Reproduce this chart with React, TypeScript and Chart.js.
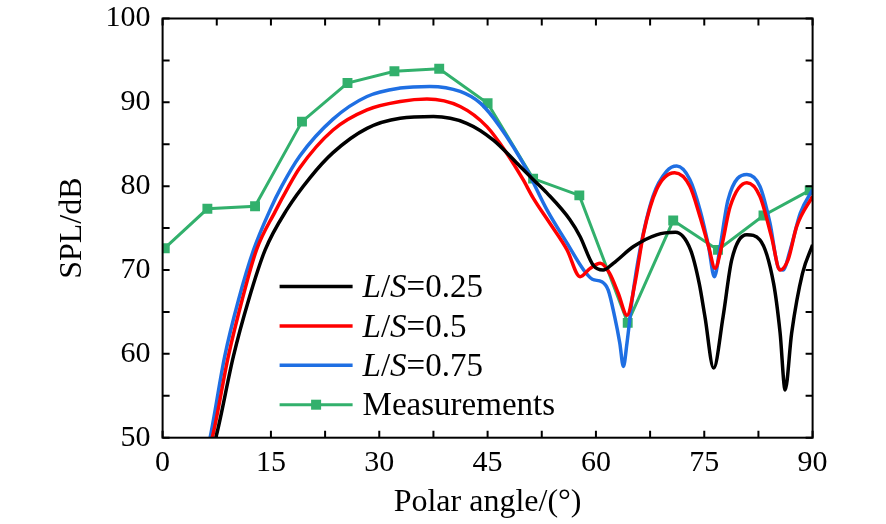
import React, { useEffect, useRef } from "react";
import { Chart, registerables } from "chart.js";

Chart.register(...registerables);

// ---- tick values ----
const xTickValues = [0, 15, 30, 45, 60, 75, 90];
const yTickValues = [50, 60, 70, 80, 90, 100];
const xMinorTickValues = [0, 7.5, 15, 22.5, 30, 37.5, 45, 52.5, 60, 67.5, 75, 82.5, 90];
const yMinorTickValues = [50, 55, 60, 65, 70, 75, 80, 85, 90, 95, 100];

// ---- L/S = 0.25 (black) ----
const ls025Angle = [7.0, 7.4, 9.8, 11.9, 14.2, 17.2, 20.4, 23.6, 28.3, 32.9, 37.5, 42.1, 45.8, 49.0, 51.3, 53.2, 56.4, 57.8, 59.6, 61.0, 62.4, 65.2, 68.4, 71.0, 73.1, 74.3, 75.1, 76.3, 77.6, 78.8, 80.9, 82.7, 84.6, 85.5, 86.2, 87.1, 88.6, 90.0];
const ls025Spl = [49.0, 50.1, 59.7, 66.4, 72.4, 77.2, 81.0, 84.0, 86.9, 88.1, 88.3, 87.5, 85.5, 82.8, 80.8, 79.2, 76.0, 74.0, 70.6, 70.0, 70.8, 72.8, 74.2, 74.5, 72.4, 68.4, 64.4, 58.3, 64.4, 71.2, 74.2, 73.6, 68.4, 62.5, 55.7, 62.5, 69.6, 73.0];

// ---- L/S = 0.5 (red) ----
const ls05Angle = [6.5, 6.9, 9.1, 11.0, 13.0, 15.6, 17.4, 19.0, 23.6, 28.3, 32.9, 36.6, 41.2, 44.9, 47.6, 49.9, 51.3, 53.6, 56.0, 57.8, 59.2, 60.6, 61.9, 63.1, 64.3, 65.4, 66.6, 68.4, 70.9, 73.0, 74.4, 75.6, 76.5, 77.4, 78.6, 80.9, 82.7, 84.3, 85.5, 86.6, 87.8, 90.0];
const ls05Spl = [49.0, 50.1, 59.7, 66.4, 72.4, 77.0, 79.9, 82.2, 86.7, 89.1, 90.1, 90.4, 89.5, 87.1, 84.0, 80.8, 78.6, 75.6, 72.4, 69.2, 70.2, 70.8, 69.6, 67.2, 64.6, 68.4, 74.4, 79.6, 81.6, 80.0, 76.4, 72.8, 70.2, 72.8, 77.6, 80.4, 78.8, 74.0, 70.0, 71.2, 75.2, 78.8];

// ---- L/S = 0.75 (blue) ----
const ls075Angle = [6.3, 6.6, 8.6, 10.5, 12.6, 14.9, 16.5, 19.0, 23.6, 28.3, 32.9, 37.0, 41.2, 44.0, 46.7, 50.4, 53.2, 56.0, 58.3, 59.5, 60.8, 61.7, 62.6, 63.3, 63.8, 64.3, 65.0, 66.1, 67.9, 69.8, 71.2, 73.0, 74.4, 75.6, 76.4, 77.2, 78.3, 80.9, 82.7, 84.1, 85.3, 85.9, 86.9, 88.3, 90.0];
const ls075Spl = [49.0, 50.1, 59.7, 66.4, 72.4, 77.2, 80.0, 83.6, 88.0, 90.7, 91.7, 91.9, 91.3, 89.9, 87.1, 82.0, 77.2, 73.2, 70.0, 68.9, 68.6, 67.6, 64.4, 61.3, 58.5, 61.3, 66.4, 72.4, 78.8, 81.8, 82.4, 80.8, 77.2, 72.8, 69.2, 72.8, 78.4, 81.4, 80.0, 75.6, 70.2, 70.0, 72.4, 76.8, 79.6];

// ---- Measurements (green) ----
const measAngle = [0.3, 6.2, 12.8, 19.3, 25.6, 32.1, 38.3, 45.0, 51.3, 57.7, 64.4, 70.7, 76.9, 83.2, 89.6];
const measSpl = [72.6, 77.3, 77.6, 87.7, 92.3, 93.7, 94.0, 89.9, 80.9, 78.9, 63.7, 75.9, 72.4, 76.5, 79.5];

const seriesLabels = ["L/S=0.25", "L/S=0.5", "L/S=0.75", "Measurements"];

const BLACK = "#000000";
const RED = "#ff0000";
const BLUE = "#1f6fe3";
const GREEN = "#32b06c";
const FONT = "'Liberation Serif', 'Times New Roman', serif";

const zip = (xs: number[], ys: number[]) => xs.map((x, i) => ({ x, y: ys[i] }));

const framePlugin = {
  id: "frame",
  afterDatasetsDraw(chart: any) {
    const { ctx, chartArea } = chart;
    const { left, right, top, bottom } = chartArea;
    const xs = chart.scales.x;
    const ys = chart.scales.y;
    ctx.save();
    ctx.strokeStyle = "#000";
    ctx.lineWidth = 2;
    ctx.strokeRect(left, top, right - left, bottom - top);
    ctx.beginPath();
    const tl = 7;
    xMinorTickValues.forEach((v) => {
      const px = xs.getPixelForValue(v);
      ctx.moveTo(px, bottom);
      ctx.lineTo(px, bottom - tl);
      ctx.moveTo(px, top);
      ctx.lineTo(px, top + tl);
    });
    yMinorTickValues.forEach((v) => {
      const py = ys.getPixelForValue(v);
      ctx.moveTo(left, py);
      ctx.lineTo(left + tl, py);
      ctx.moveTo(right, py);
      ctx.lineTo(right - tl, py);
    });
    ctx.stroke();
    ctx.restore();
  },
};

const legendPlugin = {
  id: "customLegend",
  afterDraw(chart: any) {
    const { ctx, chartArea } = chart;
    const x0 = chartArea.left + 117;
    const x1 = x0 + 73;
    const tx = x1 + 10;
    const y0 = chartArea.top + 268;
    const dy = 39.4;
    const colors = [BLACK, RED, BLUE, GREEN];
    const widths = [3.5, 3.5, 3.5, 3];
    ctx.save();
    seriesLabels.forEach((label, i) => {
      const y = y0 + i * dy;
      ctx.strokeStyle = colors[i];
      ctx.lineWidth = widths[i];
      ctx.beginPath();
      ctx.moveTo(x0, y);
      ctx.lineTo(x1, y);
      ctx.stroke();
      if (i === 3) {
        ctx.fillStyle = GREEN;
        ctx.fillRect((x0 + x1) / 2 - 5, y - 5, 10, 10);
      }
      ctx.fillStyle = "#000";
      ctx.textBaseline = "middle";
      ctx.textAlign = "left";
      const ty = y + 2;
      if (label.startsWith("L/S")) {
        const parts: [string, boolean][] = [
          ["L", true],
          ["/", false],
          ["S", true],
          [label.slice(3), false],
        ];
        let cx = tx;
        parts.forEach(([t, it]) => {
          ctx.font = `${it ? "italic " : ""}33px ${FONT}`;
          ctx.fillText(t, cx, ty);
          cx += ctx.measureText(t).width;
        });
      } else {
        ctx.font = `33px ${FONT}`;
        ctx.fillText(label, tx, ty);
      }
    });
    ctx.restore();
  },
};

export default function App() {
  const canvasRef = useRef<HTMLCanvasElement | null>(null);

  useEffect(() => {
    if (!canvasRef.current) return;
    const chart = new Chart(canvasRef.current, {
      type: "line",
      data: {
        datasets: [
          {
            label: seriesLabels[0],
            data: zip(ls025Angle, ls025Spl),
            borderColor: BLACK,
            borderWidth: 3.5,
            pointRadius: 0,
            cubicInterpolationMode: "monotone",
            fill: false,
          },
          {
            label: seriesLabels[1],
            data: zip(ls05Angle, ls05Spl),
            borderColor: RED,
            borderWidth: 3.5,
            pointRadius: 0,
            cubicInterpolationMode: "monotone",
            fill: false,
          },
          {
            label: seriesLabels[2],
            data: zip(ls075Angle, ls075Spl),
            borderColor: BLUE,
            borderWidth: 3.5,
            pointRadius: 0,
            cubicInterpolationMode: "monotone",
            fill: false,
          },
          {
            label: seriesLabels[3],
            data: zip(measAngle, measSpl),
            borderColor: GREEN,
            backgroundColor: GREEN,
            borderWidth: 3,
            pointStyle: "rect",
            pointRadius: 7,
            pointBorderWidth: 0,
            tension: 0,
            fill: false,
          },
        ],
      },
      options: {
        animation: false,
        responsive: true,
        maintainAspectRatio: false,
        devicePixelRatio: 1,
        layout: { padding: { left: 0, right: 73.4, top: 0, bottom: 0 } },
        plugins: {
          legend: { display: false },
          tooltip: { enabled: false },
        },
        scales: {
          x: {
            type: "linear",
            min: 0,
            max: 90,
            grid: { display: false, drawTicks: false },
            border: { display: false },
            afterBuildTicks: (s: any) => {
              s.ticks = xTickValues.map((v) => ({ value: v }));
            },
            afterFit: (s: any) => {
              s.height = 86.3;
            },
            ticks: {
              color: "#000",
              padding: 7,
              maxRotation: 0,
              autoSkip: false,
              font: { family: FONT, size: 30 },
            },
            title: {
              display: true,
              text: "Polar angle/(°)",
              color: "#000",
              font: { family: FONT, size: 32 },
              padding: { top: 0, bottom: 2 },
            },
          },
          y: {
            type: "linear",
            min: 50,
            max: 100,
            grid: { display: false, drawTicks: false },
            border: { display: false },
            afterBuildTicks: (s: any) => {
              s.ticks = yTickValues.map((v) => ({ value: v }));
            },
            afterFit: (s: any) => {
              s.width = 162.6;
              s.paddingTop = 18.5;
              s.paddingBottom = 0;
            },
            ticks: {
              color: "#000",
              padding: 12,
              autoSkip: false,
              font: { family: FONT, size: 30 },
            },
            title: {
              display: true,
              text: "SPL/dB",
              color: "#000",
              font: { family: FONT, size: 32 },
              padding: { top: 53, bottom: 0 },
            },
          },
        },
      },
      plugins: [framePlugin, legendPlugin],
    });
    return () => chart.destroy();
  }, []);

  return (
    <div
      style={{
        position: "absolute",
        left: 0,
        top: 0,
        width: 886,
        height: 524,
        background: "#fff",
      }}
    >
      <canvas ref={canvasRef} />
    </div>
  );
}
